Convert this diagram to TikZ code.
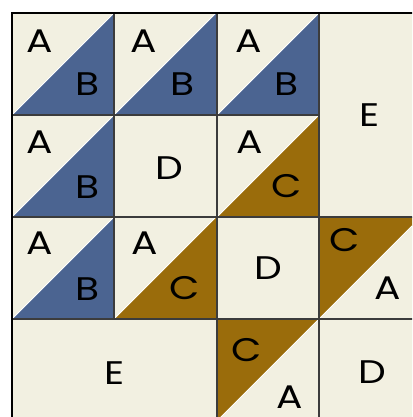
\documentclass[tikz,border=0pt]{standalone}
\usepackage{fontspec}
\setmainfont{Poppins}
\definecolor{quiltcream}{HTML}{F2F0E1}
\definecolor{quiltblue}{HTML}{4B6491}
\definecolor{quiltgold}{HTML}{9A6C0B}
\definecolor{seamgray}{HTML}{3C3C3C}
\begin{document}
\begin{tikzpicture}[x=0.75pt,y=-0.75pt,
  patch/.style={font=\fontsize{24.5}{24.5}\selectfont,inner sep=0pt,xscale=1.2,transform shape},
  seam/.style={draw=seamgray,line width=1.1pt},
  fold/.style={draw=white,line width=0.7pt}]
\useasboundingbox (0,0) rectangle (412,417);
\clip (0,0) rectangle (412,417);
\fill[white] (0,0) rectangle (412,417);
\fill[quiltcream] (12,13) rectangle (421,421);
% blue half squares, lower right
\foreach \x/\y in {12/13,114/13,217/13,12/115,12/217}{
  \fill[quiltblue] (\x,\y+102) -- ++(102,0) -- ++(0,-102) -- cycle;
  \draw[fold] (\x,\y+102) -- ++(102,-102);
}
% gold half squares, lower right
\foreach \x/\y in {217/115,114/217}{
  \fill[quiltgold] (\x,\y+102) -- ++(102,0) -- ++(0,-102) -- cycle;
  \draw[fold] (\x,\y+102) -- ++(102,-102);
}
% gold half squares, upper left
\foreach \x/\y in {319/217,217/319}{
  \fill[quiltgold] (\x,\y) -- ++(102,0) -- ++(-102,102) -- cycle;
  \draw[fold] (\x,\y+102) -- ++(102,-102);
}
% seams
\draw[seam] (114,13) -- (114,319);
\draw[seam] (217,13) -- (217,421);
\draw[seam] (319,13) -- (319,421);
\draw[seam] (12,115) -- (319,115);
\draw[seam] (12,217) -- (421,217);
\draw[seam] (12,319) -- (421,319);
\draw[seam] (421,13) -- (421,421) -- (12,421);
\draw[black,line width=1.6pt] (12,421) -- (12,13) -- (421,13);
% labels
\node[patch] (a00) at (40,41) {A};
\node[patch] (b00) at (88,84) {B};
\node[patch] (a10) at (144,41) {A};
\node[patch] (b10) at (183,84) {B};
\node[patch] (a20) at (249,41) {A};
\node[patch] (b20) at (287,84) {B};
\node[patch] (e30) at (370,115) {E};
\node[patch] (a01) at (40,142) {A};
\node[patch] (b01) at (88,187) {B};
\node[patch] (d11) at (169,168) {D};
\node[patch] (a21) at (250,142) {A};
\node[patch] (c21) at (287,186) {C};
\node[patch] (a02) at (40,243) {A};
\node[patch] (b02) at (88,289) {B};
\node[patch] (a12) at (145,243) {A};
\node[patch] (c12) at (185,288) {C};
\node[patch] (d22) at (268,268) {D};
\node[patch] (c32) at (345,240) {C};
\node[patch] (a32) at (388,288) {A};
\node[patch] (e03) at (115,373) {E};
\node[patch] (c23) at (247,350) {C};
\node[patch] (a23) at (290,397) {A};
\node[patch] (d33) at (372,372) {D};
\end{tikzpicture}
\end{document}
